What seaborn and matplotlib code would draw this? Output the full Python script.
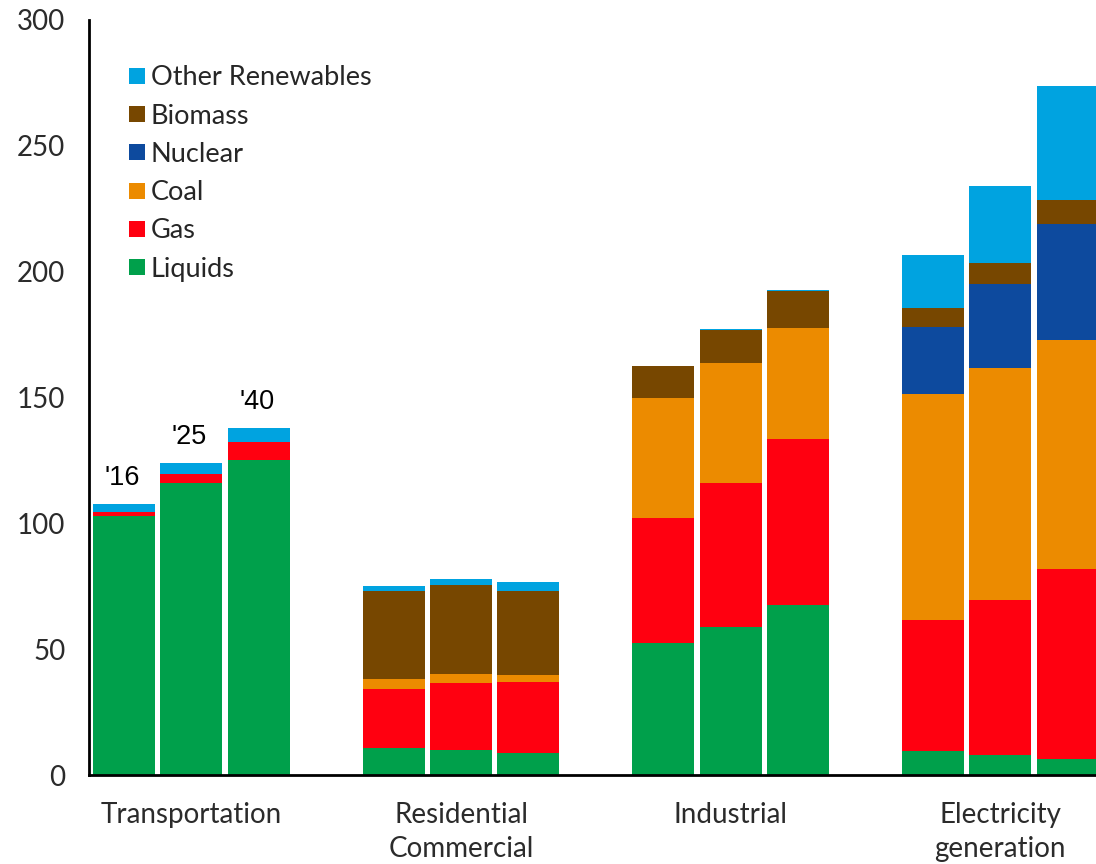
import matplotlib
matplotlib.use("Agg")
import matplotlib.pyplot as plt
from matplotlib.lines import Line2D
import numpy as np
import pandas as pd
import seaborn as sns

# data -------------------------------------------------------------------
sectors = ["Transportation", "Residential\nCommercial", "Industrial", "Electricity\ngeneration"]
years = ["'16", "'25", "'40"]
fuels = ["Liquids", "Gas", "Coal", "Nuclear", "Biomass", "Other Renewables"]

liquids = [102.7, 116.2, 125.2, 10.6, 9.9, 8.9, 52.6, 58.7, 67.7, 9.4, 7.9, 6.2]
gas = [1.6, 3.4, 6.9, 23.7, 26.5, 28.2, 49.7, 57.5, 65.7, 52.3, 61.8, 75.6]
coal = [0.0, 0.0, 0.0, 4.0, 3.6, 2.5, 47.4, 47.3, 44.3, 89.5, 92.1, 91.0]
nuclear = [0.0, 0.0, 0.0, 0.0, 0.0, 0.0, 0.0, 0.0, 0.0, 26.9, 33.4, 46.1]
biomass = [0.0, 0.0, 0.0, 35.0, 35.5, 33.7, 12.6, 13.2, 14.4, 7.3, 8.1, 9.4]
other_renew = [3.4, 4.5, 5.9, 1.8, 2.4, 3.4, 0.3, 0.4, 0.4, 21.1, 30.7, 45.4]

colors = {
    "Liquids": "#00A04B",
    "Gas": "#FF0010",
    "Coal": "#EC8B00",
    "Nuclear": "#0D4A9E",
    "Biomass": "#774700",
    "Other Renewables": "#00A3E0",
}

# positions: 3 bars per group, one empty slot between groups
pos = [4 * g + i for g in range(len(sectors)) for i in range(len(years))]

df = pd.DataFrame({
    "pos": pos,
    "Liquids": liquids,
    "Gas": gas,
    "Coal": coal,
    "Nuclear": nuclear,
    "Biomass": biomass,
    "Other Renewables": other_renew,
})
# cumulative tops, so the stack can be drawn from the top layer down
cum = df[fuels].cumsum(axis=1)
cum["pos"] = df["pos"]

sns.set_style("white")
fig = plt.figure(figsize=(10.96, 8.64), dpi=100)
ax = fig.add_axes([0.0812, 0.103, 0.9188, 0.874])

for fuel in reversed(fuels):
    sns.barplot(
        data=cum, x="pos", y=fuel, native_scale=True, width=0.92,
        color=colors[fuel], saturation=1, errorbar=None, linewidth=0, ax=ax,
    )

# year labels over the first group
totals = cum["Other Renewables"].values
for i, yr in enumerate(years):
    ax.annotate(yr, (pos[i], totals[i]), xytext=(-1.5, 9), textcoords="offset points",
                ha="center", va="bottom", fontsize=19.5, family="Liberation Sans",
                color="black")

ax.set_xlim(-0.52, 14.42)
ax.set_ylim(0, 300)
ax.set_yticks([0, 50, 100, 150, 200, 250, 300])
ax.set_xticks([4 * g + 1 for g in range(len(sectors))])
ax.set_xticklabels(sectors, fontsize=20, family="Lato",
                   color="#2b2b2b", linespacing=1.38)
ax.set_yticklabels([0, 50, 100, 150, 200, 250, 300], fontsize=20, family="Lato",
                   color="#2b2b2b")
ax.tick_params(axis="y", length=0, pad=17)
ax.tick_params(axis="x", length=0, pad=19.5)
ax.set_xlabel("")
ax.set_ylabel("")

sns.despine(ax=ax, top=True, right=True)
for side in ["left", "bottom"]:
    ax.spines[side].set_color("black")
    ax.spines[side].set_linewidth(2)

handles = [
    Line2D([], [], marker="s", linestyle="", markersize=11,
           markerfacecolor=colors[f], markeredgewidth=0, label=f)
    for f in reversed(fuels)
]
ax.legend(handles=handles, loc="upper left", bbox_to_anchor=(0.01, 0.972),
          frameon=False, prop={"family": "Lato", "size": 19.5},
          handletextpad=0.0, labelspacing=0.49, handlelength=1.0)

fig.savefig("out.png", dpi=100)
